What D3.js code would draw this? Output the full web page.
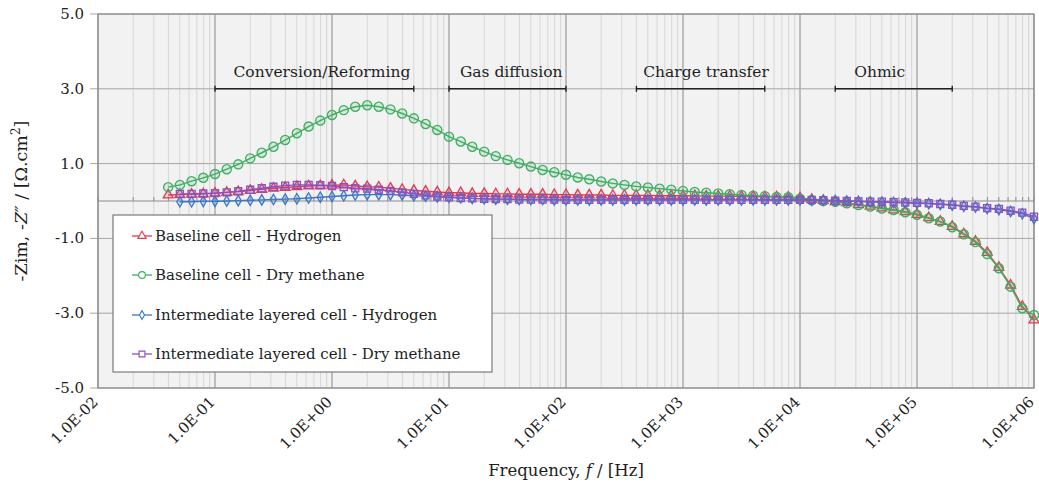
<!DOCTYPE html>
<html>
<head>
<meta charset="utf-8">
<script src="https://cdn.jsdelivr.net/npm/d3@7"></script>
<style>
  body { margin: 0; background: #fff; }
  text { font-family: 'DejaVu Serif', serif; fill: #1e1e1e; }
</style>
</head>
<body>
<script>
// frequency points, 10 per decade [Hz]
const freqs = [
  3.98e-2, 5.01e-2, 6.31e-2, 7.94e-2,
  1.00e-1, 1.26e-1, 1.58e-1, 2.00e-1, 2.51e-1, 3.16e-1, 3.98e-1, 5.01e-1, 6.31e-1, 7.94e-1,
  1.00e0, 1.26e0, 1.58e0, 2.00e0, 2.51e0, 3.16e0, 3.98e0, 5.01e0, 6.31e0, 7.94e0,
  1.00e1, 1.26e1, 1.58e1, 2.00e1, 2.51e1, 3.16e1, 3.98e1, 5.01e1, 6.31e1, 7.94e1,
  1.00e2, 1.26e2, 1.58e2, 2.00e2, 2.51e2, 3.16e2, 3.98e2, 5.01e2, 6.31e2, 7.94e2,
  1.00e3, 1.26e3, 1.58e3, 2.00e3, 2.51e3, 3.16e3, 3.98e3, 5.01e3, 6.31e3, 7.94e3,
  1.00e4, 1.26e4, 1.58e4, 2.00e4, 2.51e4, 3.16e4, 3.98e4, 5.01e4, 6.31e4, 7.94e4,
  1.00e5, 1.26e5, 1.58e5, 2.00e5, 2.51e5, 3.16e5, 3.98e5, 5.01e5, 6.31e5, 7.94e5,
  1.00e6
];
// intermediate layered cell was measured from 0.05 Hz
const freqsIL = freqs.slice(1);

const baseH2 = [
  0.16, 0.17, 0.18, 0.19,
  0.21, 0.23, 0.25, 0.28, 0.31, 0.34, 0.36, 0.38, 0.40, 0.41,
  0.42, 0.43, 0.40, 0.38, 0.37, 0.34, 0.31, 0.28, 0.26, 0.24,
  0.22, 0.22, 0.20, 0.20, 0.19, 0.19, 0.18, 0.18, 0.18, 0.17,
  0.17, 0.16, 0.16, 0.16, 0.15, 0.15, 0.15, 0.15, 0.14, 0.14,
  0.14, 0.14, 0.13, 0.13, 0.13, 0.12, 0.12, 0.11, 0.11, 0.10,
  0.08, 0.04, 0.01, -0.02, -0.05, -0.10, -0.14, -0.19, -0.24, -0.29,
  -0.36, -0.45, -0.55, -0.68, -0.88, -1.08, -1.38, -1.78, -2.25, -2.82,
  -3.18
];
const baseCH4 = [
  0.37, 0.43, 0.53, 0.62,
  0.72, 0.85, 0.98, 1.14, 1.29, 1.45, 1.63, 1.81, 1.99, 2.15,
  2.30, 2.43, 2.52, 2.56, 2.52, 2.45, 2.34, 2.21, 2.06, 1.90,
  1.72, 1.59, 1.45, 1.32, 1.20, 1.10, 1.01, 0.92, 0.83, 0.77,
  0.70, 0.63, 0.58, 0.52, 0.47, 0.43, 0.39, 0.36, 0.33, 0.30,
  0.27, 0.24, 0.22, 0.20, 0.18, 0.16, 0.14, 0.13, 0.11, 0.10,
  0.06, 0.02, 0.00, -0.02, -0.06, -0.11, -0.15, -0.20, -0.24, -0.30,
  -0.37, -0.46, -0.55, -0.70, -0.89, -1.10, -1.42, -1.80, -2.29, -2.87,
  -3.05
];
const interH2 = [
  -0.02, -0.02, -0.01,
  -0.01, 0.00, 0.01, 0.02, 0.03, 0.04, 0.05, 0.06, 0.08, 0.10,
  0.12, 0.14, 0.16, 0.17, 0.17, 0.17, 0.16, 0.14, 0.13, 0.11,
  0.10, 0.09, 0.07, 0.06, 0.05, 0.05, 0.04, 0.04, 0.04, 0.03,
  0.03, 0.03, 0.03, 0.03, 0.03, 0.03, 0.03, 0.03, 0.03, 0.03,
  0.03, 0.03, 0.03, 0.03, 0.03, 0.03, 0.03, 0.03, 0.03, 0.03,
  0.03, 0.02, 0.02, 0.01, 0.00, -0.01, -0.02, -0.03, -0.04, -0.05,
  -0.06, -0.07, -0.09, -0.11, -0.14, -0.16, -0.20, -0.23, -0.28, -0.34,
  -0.47
];
const interCH4 = [
  0.19, 0.19, 0.20,
  0.21, 0.23, 0.26, 0.30, 0.34, 0.38, 0.41, 0.43, 0.43, 0.42,
  0.40, 0.37, 0.34, 0.33, 0.30, 0.27, 0.23, 0.19, 0.15, 0.12,
  0.10, 0.08, 0.07, 0.06, 0.05, 0.05, 0.04, 0.04, 0.04, 0.04,
  0.03, 0.03, 0.03, 0.03, 0.03, 0.03, 0.03, 0.03, 0.03, 0.03,
  0.03, 0.03, 0.03, 0.03, 0.03, 0.03, 0.03, 0.03, 0.03, 0.03,
  0.03, 0.03, 0.02, 0.01, 0.00, -0.01, -0.02, -0.02, -0.03, -0.04,
  -0.05, -0.06, -0.08, -0.10, -0.13, -0.15, -0.19, -0.21, -0.26, -0.31,
  -0.42
];

const seriesNames = [
  'Baseline cell - Hydrogen',
  'Baseline cell - Dry methane',
  'Intermediate layered cell - Hydrogen',
  'Intermediate layered cell - Dry methane'
];

const xTicks = [1e-2, 1e-1, 1e0, 1e1, 1e2, 1e3, 1e4, 1e5, 1e6];
const xTickLabels = ['1.0E-02', '1.0E-01', '1.0E+00', '1.0E+01', '1.0E+02', '1.0E+03', '1.0E+04', '1.0E+05', '1.0E+06'];
const yTicks = [-5, -3, -1, 1, 3, 5];
const yTickLabels = ['-5.0', '-3.0', '-1.0', '1.0', '3.0', '5.0'];

// process regions: label, range start, range end, label position [Hz]
const regionNames = ['Conversion/Reforming', 'Gas diffusion', 'Charge transfer', 'Ohmic'];
const regionFrom = [0.1, 10, 400, 2e4];
const regionTo = [5, 100, 5000, 2e5];
const regionLabelAt = [0.82, 34, 1575, 4.8e4];

const W = 1039, H = 491;
const svg = d3.select('body').append('svg').attr('width', W).attr('height', H);

const x = d3.scaleLog().domain([1e-2, 1e6]).range([98, 1034]);
const y = d3.scaleLinear().domain([-5, 5]).range([388, 14]);

// plot background
svg.append('rect')
  .attr('x', x(1e-2)).attr('y', y(5))
  .attr('width', x(1e6) - x(1e-2)).attr('height', y(-5) - y(5))
  .attr('fill', '#f2f2f2');

// minor + major vertical grid
svg.append('g').selectAll('line')
  .data(x.ticks())
  .enter().append('line')
  .attr('x1', d => x(d)).attr('x2', d => x(d))
  .attr('y1', y(5)).attr('y2', y(-5))
  .attr('stroke', '#d6d6d6').attr('stroke-width', 1);

svg.append('g').selectAll('line')
  .data(xTicks)
  .enter().append('line')
  .attr('x1', d => x(d)).attr('x2', d => x(d))
  .attr('y1', y(5)).attr('y2', y(-5))
  .attr('stroke', '#969696').attr('stroke-width', 1);

// horizontal grid with outside ticks
svg.append('g').selectAll('line')
  .data(yTicks)
  .enter().append('line')
  .attr('x1', x(1e-2) - 8).attr('x2', x(1e6))
  .attr('y1', d => y(d)).attr('y2', d => y(d))
  .attr('stroke', '#a6a6a6').attr('stroke-width', 1);

svg.append('rect')
  .attr('x', x(1e-2)).attr('y', y(5))
  .attr('width', x(1e6) - x(1e-2)).attr('height', y(-5) - y(5))
  .attr('fill', 'none').attr('stroke', '#8c8c8c').attr('stroke-width', 1.2);

// x axis line crossing at zero, with minor ticks
svg.append('line')
  .attr('x1', x(1e-2)).attr('x2', x(1e6))
  .attr('y1', y(0)).attr('y2', y(0))
  .attr('stroke', '#8c8c8c').attr('stroke-width', 1.2);
svg.append('g').selectAll('line')
  .data(x.ticks())
  .enter().append('line')
  .attr('x1', d => x(d)).attr('x2', d => x(d))
  .attr('y1', y(0) - 4).attr('y2', y(0))
  .attr('stroke', '#8c8c8c').attr('stroke-width', 1);

// y tick labels
svg.append('g').selectAll('text')
  .data(yTicks)
  .enter().append('text')
  .attr('x', 84).attr('y', d => y(d) + 5)
  .attr('text-anchor', 'end')
  .attr('font-size', 15)
  .text((d, i) => yTickLabels[i]);

// x tick labels, rotated
svg.append('g').selectAll('text')
  .data(xTicks)
  .enter().append('text')
  .attr('transform', d => `translate(${x(d) + 1},${y(-5) + 15}) rotate(-45)`)
  .attr('text-anchor', 'end')
  .attr('font-size', 15)
  .text((d, i) => xTickLabels[i]);

// axis titles
const yt = svg.append('text')
  .attr('transform', `translate(27,${y(0)}) rotate(-90)`)
  .attr('text-anchor', 'middle')
  .attr('font-size', 17.5);
yt.append('tspan').text('-Zim, -');
yt.append('tspan').attr('font-style', 'italic').text('Z\u2033');
yt.append('tspan').text(' / [\u03A9.cm');
yt.append('tspan').attr('font-size', 12).attr('dy', -7).text('2');
yt.append('tspan').attr('dy', 7).text(']');

const xt = svg.append('text')
  .attr('x', 566).attr('y', 476)
  .attr('text-anchor', 'middle')
  .attr('font-size', 16.5);
xt.append('tspan').text('Frequency, ');
xt.append('tspan').attr('font-style', 'italic').text('f');
xt.append('tspan').text(' / [Hz]');

// region brackets
const regions = svg.append('g');
regionNames.forEach((name, i) => {
  const ry = y(3);
  regions.append('line')
    .attr('x1', x(regionFrom[i])).attr('x2', x(regionTo[i]))
    .attr('y1', ry).attr('y2', ry)
    .attr('stroke', '#222').attr('stroke-width', 1.4);
  [regionFrom[i], regionTo[i]].forEach(f => {
    regions.append('line')
      .attr('x1', x(f)).attr('x2', x(f))
      .attr('y1', ry - 3).attr('y2', ry + 3)
      .attr('stroke', '#222').attr('stroke-width', 1.4);
  });
  regions.append('text')
    .attr('x', x(regionLabelAt[i])).attr('y', 77)
    .attr('text-anchor', 'middle')
    .attr('font-size', 15.5)
    .text(name);
});

// series
const series = [
  { name: seriesNames[0], f: freqs, v: baseH2, color: '#e23a4e', symbol: d3.symbolTriangle, size: 42, lsize: 30 },
  { name: seriesNames[1], f: freqs, v: baseCH4, color: '#3fae62', symbol: d3.symbolCircle, size: 66, lsize: 36 },
  { name: seriesNames[2], f: freqsIL, v: interH2, color: '#3b78c9', symbol: d3.symbolDiamond, size: 32, lsize: 22 },
  { name: seriesNames[3], f: freqsIL, v: interCH4, color: '#8a52c0', symbol: d3.symbolSquare, size: 50, lsize: 34 }
];

const line = d3.line().x(d => x(d[0])).y(d => y(d[1]));

series.forEach(s => {
  const pts = s.f.map((f, i) => [f, s.v[i]]);
  const g = svg.append('g');
  g.append('path')
    .attr('d', line(pts))
    .attr('fill', 'none')
    .attr('stroke', s.color)
    .attr('stroke-width', 1.4);
  g.selectAll('path.m')
    .data(pts)
    .enter().append('path')
    .attr('class', 'm')
    .attr('d', d3.symbol(s.symbol, s.size))
    .attr('transform', d => `translate(${x(d[0])},${y(d[1])})`)
    .attr('fill', s.color).attr('fill-opacity', 0.15)
    .attr('stroke', s.color).attr('stroke-width', 1.3);
});

// legend
const lg = svg.append('g');
lg.append('rect')
  .attr('x', 113).attr('y', 215).attr('width', 379).attr('height', 157)
  .attr('fill', '#fff').attr('stroke', '#7a7a7a').attr('stroke-width', 1.2);
const legendY = [236, 275, 315, 354];
series.forEach((s, i) => {
  const ly = legendY[i];
  lg.append('line')
    .attr('x1', 132).attr('x2', 152).attr('y1', ly).attr('y2', ly)
    .attr('stroke', s.color).attr('stroke-width', 1.3);
  lg.append('path')
    .attr('d', d3.symbol(s.symbol, s.lsize))
    .attr('transform', `translate(142,${ly})`)
    .attr('fill', '#fff')
    .attr('stroke', s.color).attr('stroke-width', 1.1);
  lg.append('text')
    .attr('x', 155).attr('y', ly + 5)
    .attr('font-size', 15)
    .text(s.name);
});
</script>
</body>
</html>
